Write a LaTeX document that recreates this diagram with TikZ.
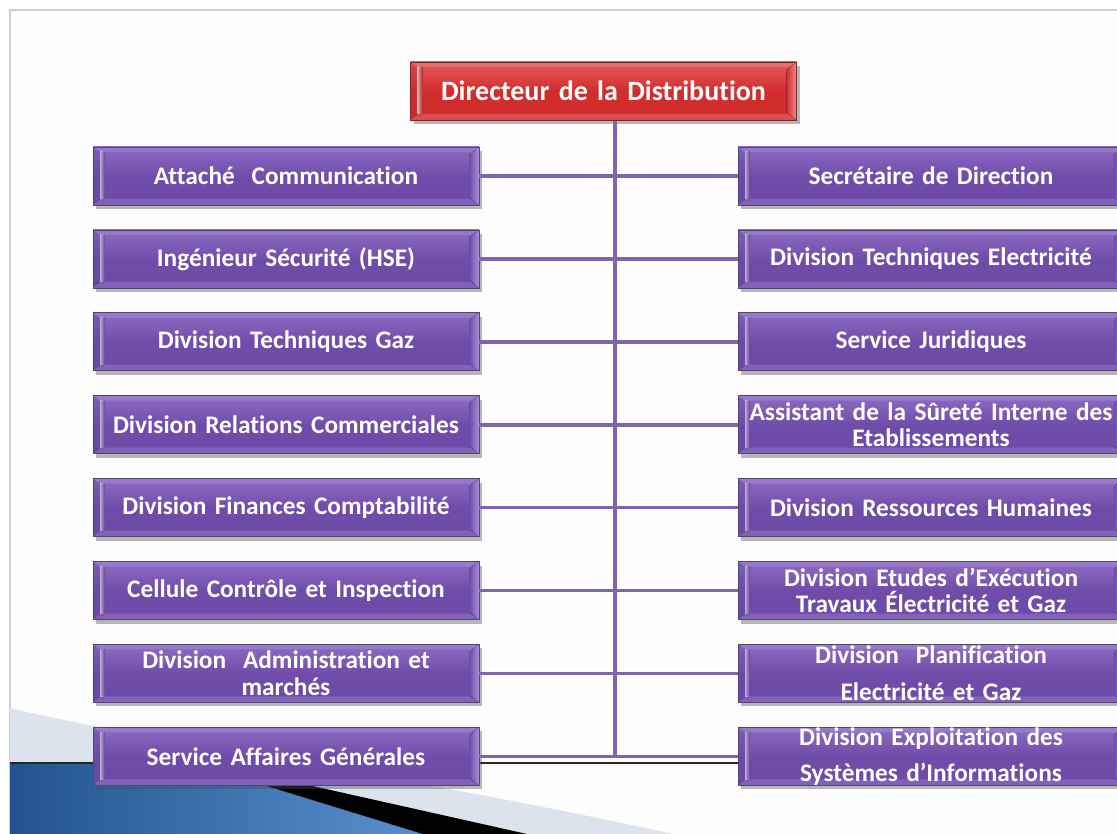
\documentclass[tikz,border=0pt]{standalone}
\usepackage{fontspec}
\setmainfont{Carlito}[Ligatures={NoCommon}]
\usetikzlibrary{shadows}

% palette
\definecolor{slidebg}{HTML}{FDFDFD}
\definecolor{framegray}{HTML}{CFCFCF}
\definecolor{pbody}{HTML}{6E4AA8}
\definecolor{ptop}{HTML}{8D6BC2}
\definecolor{pedge}{HTML}{A990DA}
\definecolor{plight}{HTML}{D6C6F6}
\definecolor{poutline}{HTML}{54456C}
\definecolor{pline}{HTML}{8164AE}
\definecolor{rbody}{HTML}{D22D2D}
\definecolor{rtop}{HTML}{E65A5A}
\definecolor{redge}{HTML}{EE8C8C}
\definecolor{rlight}{HTML}{F8C6C6}
\definecolor{routline}{HTML}{7A2A2A}
\definecolor{bandgray}{HTML}{DCE3ED}
\definecolor{bluedark}{HTML}{21548F}
\definecolor{bluelight}{HTML}{5A8FCF}

\tikzset{
  % bevelled button: #1 edge colour, #2 highlight colour, #3 body colour
  bevel/.style n args={3}{
    path picture={
      \path (path picture bounding box.north west) coordinate (bnw)
            (path picture bounding box.south east) coordinate (bse);
      % top bevel
      \fill[#1, opacity=.45] (bnw) -- (bse|-bnw) -- ++(-9,5)
            -- ([xshift=9pt,yshift=-5pt]bnw) -- cycle;
      % bottom bevel
      \fill[#1, opacity=.35] (bnw|-bse) -- (bse) -- ++(-9,-6)
            -- ([xshift=9pt,yshift=6pt]bnw|-bse) -- cycle;
      % left bevel
      \fill[#3!92!black, opacity=.35] (bnw) -- ++(7,6)
            -- ([xshift=7pt,yshift=6pt]bnw|-bse) -- (bnw|-bse) -- cycle;
      % right bevel
      \fill[left color=#3, right color=#1] (bse|-bnw) -- ++(-10,8)
            -- ([xshift=-10pt,yshift=8pt]bse) -- (bse) -- cycle;
      % left highlight stripe
      \fill[left color=#2, right color=#3, opacity=.85]
            ([xshift=7pt,yshift=-5pt]bnw) -- ++(3,3) -- ++(0,46)
            -- ([xshift=7pt,yshift=6pt]bnw|-bse) -- cycle;
      \fill[left color=#2, right color=#3, opacity=.85]
            ([xshift=7pt,yshift=-5pt]bnw) rectangle ([xshift=12pt,yshift=6pt]bnw|-bse);
    }
  },
  basebox/.style={
    draw, line width=.6pt, text=white, align=center,
    inner sep=0pt, minimum height=58pt,
    drop shadow={shadow xshift=3pt, shadow yshift=-4pt, opacity=.4, fill=black!70}
  },
  orgbox/.style={
    basebox, draw=poutline, minimum width=386pt, text width=380pt,
    top color=ptop, bottom color=pbody, middle color=pbody!92!ptop,
    font=\bfseries\fontsize{25.3}{26.5}\selectfont,
    bevel={pedge}{plight}{pbody}
  },
  headbox/.style={
    basebox, draw=routline, minimum width=386pt, text width=380pt,
    top color=rtop, bottom color=rbody, middle color=rbody,
    font=\bfseries\fontsize{28}{30}\selectfont,
    bevel={redge}{rlight}{rbody}
  },
  link/.style={draw=pline, line width=3.6pt}
}

\begin{document}
\begin{tikzpicture}[x=1pt, y=-1pt]
  \clip (0,0) rectangle (1117,834);
  \fill[white] (0,0) rectangle (1117,834);

  % slide surface and its frame
  \fill[slidebg] (10,10) rectangle (1117,834);
  \draw[framegray, line width=1.4pt] (10,834) -- (10,10) -- (1117,10);

  % lower-left theme ornament
  \fill[bandgray] (10,708) .. controls (150,742) and (380,770) .. (673,834)
        -- (527,834) -- (210,763) -- (10,763) -- cycle;
  \fill[left color=bluedark, right color=bluelight]
        (10,763) -- (192,763) -- (423,834) -- (10,834) -- cycle;
  \fill[black] (192,763) -- (210,763) -- (527,834) -- (423,834) -- cycle;
  \draw[black!85, line width=1.3pt] (10,763) -- (1117,763);

  % trunk of the chart
  \coordinate (trunktop) at (615,121);
  \coordinate (trunkbot) at (615,757);

  % head
  \node[headbox] (dir) at (603.5,91) {Directeur de la Distribution};

  % left column
  \node[orgbox] (l1) at (286,176.0) {Attaché\ \ Communication};
  \node[orgbox] (l2) at (286,258.9) {Ingénieur Sécurité (HSE)};
  \node[orgbox] (l3) at (286,341.8) {Division Techniques Gaz};
  \node[orgbox] (l4) at (286,424.7) {Division Relations Commerciales};
  \node[orgbox] (l5) at (286,507.6) {Division Finances Comptabilité};
  \node[orgbox] (l6) at (286,590.5) {Cellule Contrôle et Inspection};
  \node[orgbox] (l7) at (286,673.4) {Division\ \ Administration et\\ marchés};
  \node[orgbox] (l8) at (286,756.3) {Service Affaires Générales};

  % right column
  \node[orgbox] (r1) at (931,176.0) {Secrétaire de Direction};
  \node[orgbox] (r2) at (931,258.9) {Division Techniques Electricité};
  \node[orgbox] (r3) at (931,341.8) {Service Juridiques};
  \node[orgbox] (r4) at (931,424.7) {Assistant de la Sûreté Interne des\\ Etablissements};
  \node[orgbox] (r5) at (931,507.6) {Division Ressources Humaines};
  \node[orgbox] (r6) at (931,590.5) {Division Etudes d’Exécution\\ Travaux Électricité et Gaz};
  \node[orgbox, font=\bfseries\fontsize{25.3}{37}\selectfont] (r7) at (931,673.4)
        {Division\ \ Planification\\ Electricité et Gaz};
  \node[orgbox, font=\bfseries\fontsize{25.3}{36}\selectfont] (r8) at (931,756.3)
        {Division Exploitation des\\ Systèmes d’Informations};

  % connectors
  \draw[link] (trunktop) -- (trunkbot);
  \foreach \b in {l1,l2,l3,l4,l5,l6,l7,l8}{
    \draw[link] (\b.east) -- (\b.east -| trunktop);
  }
  \foreach \b in {r1,r2,r3,r4,r5,r6,r7,r8}{
    \draw[link] (\b.west) -- (\b.west -| trunktop);
  }
\end{tikzpicture}
\end{document}
